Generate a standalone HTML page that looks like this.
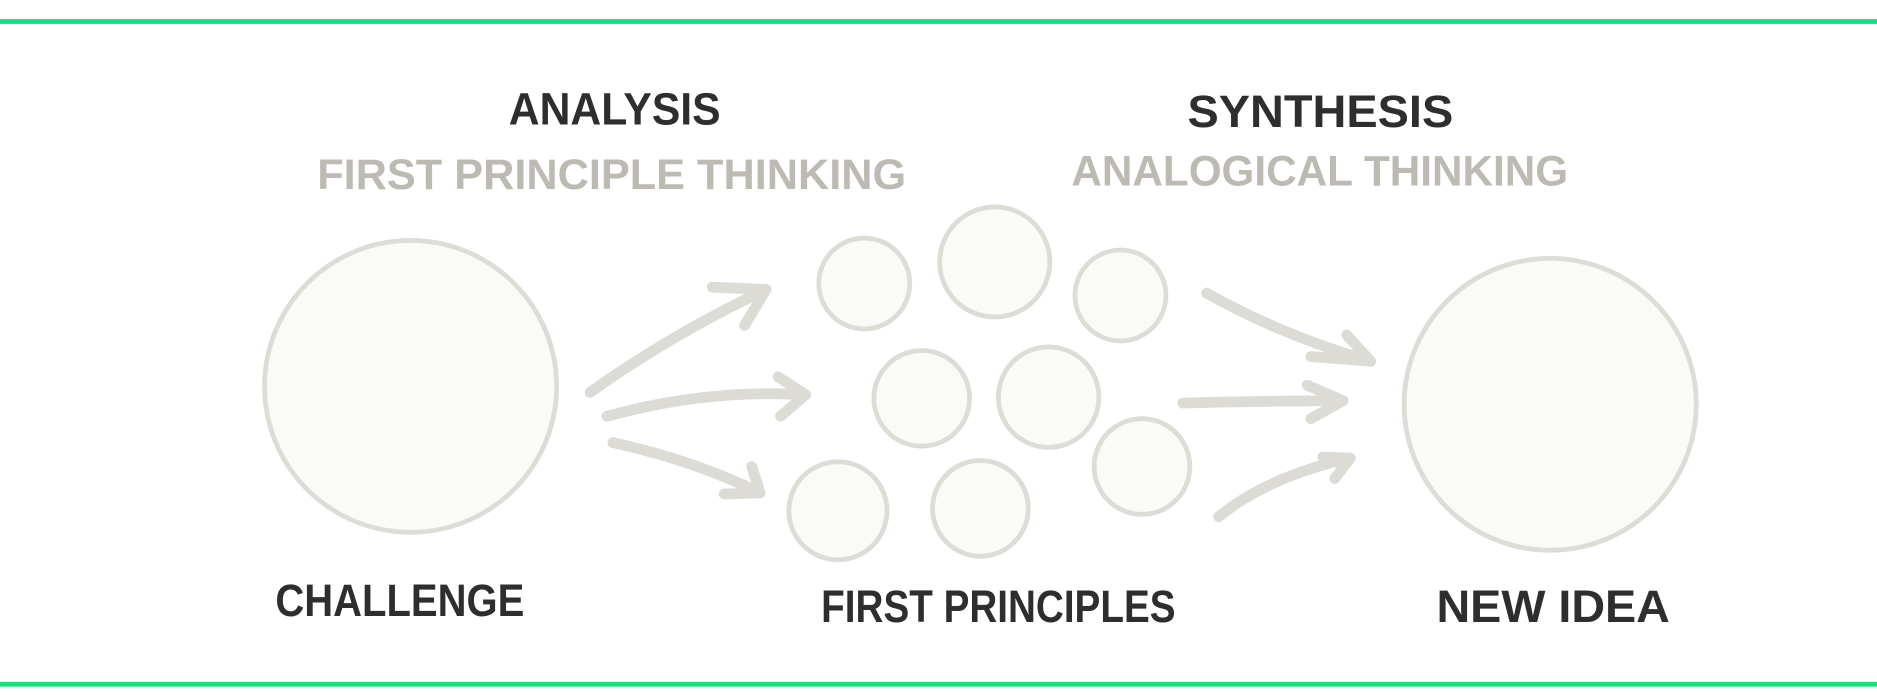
<!DOCTYPE html>
<html><head><style>html,body{margin:0;padding:0;background:#fff;}svg{display:block}</style></head>
<body>
<svg width="1877" height="695" viewBox="0 0 1568 581" preserveAspectRatio="none" xmlns="http://www.w3.org/2000/svg">
<rect width="1568" height="581" fill="#fff"/>
<rect x="0" y="16" width="1568" height="4" fill="#0fe37a"/>
<rect x="0" y="570" width="1568" height="4" fill="#0fe37a"/>
<g fill="#fafaf8" stroke="#dddcd7" stroke-width="4">
<circle cx="343" cy="323" r="122"/>
<circle cx="1295" cy="338" r="122"/>
<circle cx="722" cy="237" r="38"/>
<circle cx="831" cy="219" r="46"/>
<circle cx="936" cy="247" r="38"/>
<circle cx="770" cy="333" r="40"/>
<circle cx="876" cy="332" r="42"/>
<circle cx="954" cy="390" r="40"/>
<circle cx="700" cy="427" r="41"/>
<circle cx="819" cy="425" r="40"/>
</g>
<g fill="none" stroke="#dcdbd5" stroke-width="9" stroke-linecap="round" stroke-linejoin="round">
<path d="M493 328 Q560 280 640 242"/><path d="M595 240 L640 242 L622 272"/>
<path d="M507 348 Q590 325 673 330"/><path d="M650 315 L673 330 L652 348"/>
<path d="M512 370 Q580 385 635 412"/><path d="M628 390 L635 412 L605 413"/>
<path d="M1008 245 Q1070 280 1145 302"/><path d="M1125 280 L1145 302 L1095 298"/>
<path d="M988 337 Q1060 335 1122 335"/><path d="M1092 322 L1122 335 L1095 350"/>
<path d="M1018 432 Q1060 398 1128 383"/><path d="M1105 382 L1128 383 L1115 400"/>
</g>
<g font-family="Liberation Sans, sans-serif" font-size="38" font-weight="bold" fill="#2e2e2c">
<text x="425" y="104" textLength="177" lengthAdjust="spacingAndGlyphs">ANALYSIS</text>
<text x="992" y="106" textLength="222" lengthAdjust="spacingAndGlyphs">SYNTHESIS</text>
<text x="230" y="515" textLength="208" lengthAdjust="spacingAndGlyphs">CHALLENGE</text>
<text x="686" y="520" textLength="296" lengthAdjust="spacingAndGlyphs">FIRST PRINCIPLES</text>
<text x="1200" y="520" textLength="195" lengthAdjust="spacingAndGlyphs">NEW IDEA</text>
</g>
<g font-family="Liberation Sans, sans-serif" font-size="36" font-weight="bold" fill="#bcbab2">
<text x="265" y="158" textLength="492" lengthAdjust="spacingAndGlyphs">FIRST PRINCIPLE THINKING</text>
<text x="895" y="155" textLength="415" lengthAdjust="spacingAndGlyphs">ANALOGICAL THINKING</text>
</g>
</svg>
</body></html>
